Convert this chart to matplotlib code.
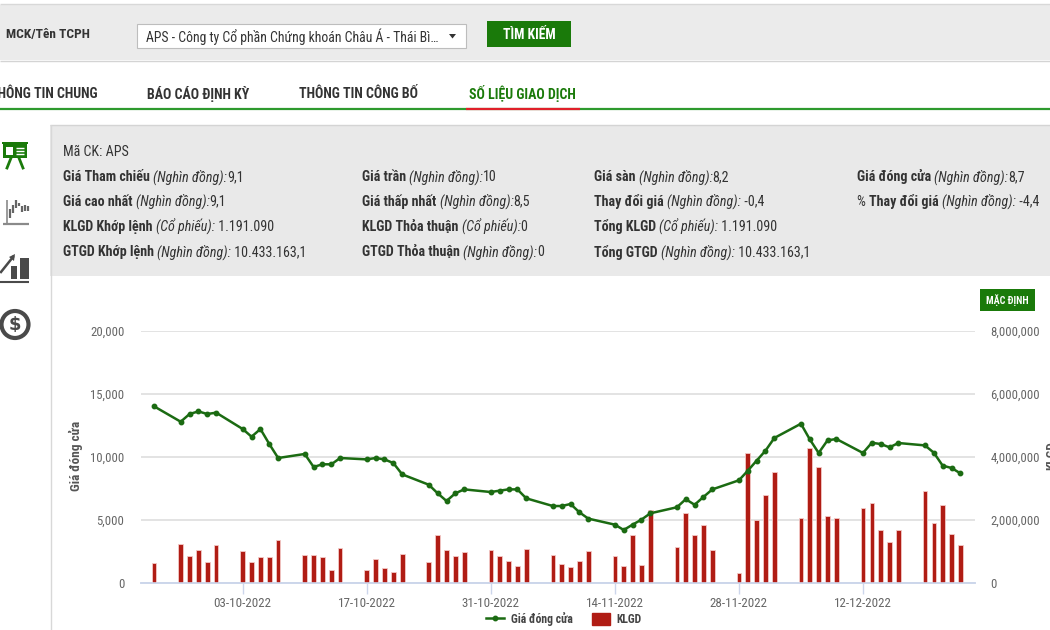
import matplotlib
matplotlib.use('Agg')
import matplotlib.pyplot as plt
import matplotlib.dates as mdates
import pandas as pd
from matplotlib.patches import Circle, Polygon, Rectangle
from matplotlib.ticker import FuncFormatter

plt.rcParams['font.family'] = ['Roboto Condensed', 'Noto Sans', 'DejaVu Sans']

# Trading days, 23-09-2022 to 23-12-2022
trade_dates = pd.bdate_range('2022-09-23', '2022-12-23')

close_price = [
    14020, 12800, 13410, 13620, 13410, 13520,
    12220, 11610, 12220, 11030, 9920,
    10240, 9210, 9420, 9420, 9920,
    9810, 9920, 9810, 9520, 8620,
    7800, 7120, 6510, 7120, 7430,
    7220, 7330, 7430, 7430, 6720,
    6110, 6110, 6270, 5610, 5110,
    4630, 4210, 4630, 5030, 5530,
    6010, 6650, 6210, 6830, 7430,
    8150, 8910, 9710, 10500, 11510,
    12640, 11400, 10320, 11320, 11430,
    10320, 11130, 11030, 10770, 11110,
    10920, 10340, 9310, 9130, 8700,
]

volume = [
    624000, 1250000, 868000, 1040000, 656000, 1217000,
    1005000, 656000, 836000, 836000, 1355000,
    900000, 900000, 836000, 402000, 1110000,
    402000, 762000, 487000, 349000, 931000,
    665000, 1513000, 1058000, 857000, 995000,
    1058000, 857000, 709000, 540000, 1090000,
    889000, 614000, 508000, 709000, 1026000,
    857000, 540000, 1513000, 571000, 2317000,
    1132000, 2225000, 1508000, 1841000, 1048000,
    317000, 4116000, 1989000, 2783000, 3524000,
    2053000, 4275000, 3693000, 2127000, 2053000,
    2370000, 2540000, 1672000, 1291000, 1672000,
    2931000, 1915000, 2476000, 1566000, 1191090,
]

price_ticks = [0, 5000, 10000, 15000, 20000]
volume_ticks = [0, 2000000, 4000000, 6000000, 8000000]
date_ticks = ['2022-10-03', '2022-10-17', '2022-10-31', '2022-11-14', '2022-11-28', '2022-12-12']

nav_items = ['BÁO CÁO ĐỊNH KỲ', 'THÔNG TIN CÔNG BỐ', 'SỐ LIỆU GIAO DỊCH']

info_rows = [
    [[('Giá Tham chiếu ', 'b'), ('(Nghìn đồng):', 'i'), ('9,1', 'n')],
     [('Giá trần ', 'b'), ('(Nghìn đồng):', 'i'), ('10', 'n')],
     [('Giá sàn ', 'b'), ('(Nghìn đồng):', 'i'), ('8,2', 'n')],
     [('Giá đóng cửa ', 'b'), ('(Nghìn đồng):', 'i'), ('8,7', 'n')]],
    [[('Giá cao nhất ', 'b'), ('(Nghìn đồng):', 'i'), ('9,1', 'n')],
     [('Giá thấp nhất ', 'b'), ('(Nghìn đồng):', 'i'), ('8,5', 'n')],
     [('Thay đổi giá ', 'b'), ('(Nghìn đồng):', 'i'), (' -0,4', 'n')],
     [('% ', 'n'), ('Thay đổi giá ', 'b'), ('(Nghìn đồng):', 'i'), (' -4,4', 'n')]],
    [[('KLGD Khớp lệnh ', 'b'), ('(Cổ phiếu):', 'i'), (' 1.191.090', 'n')],
     [('KLGD Thỏa thuận ', 'b'), ('(Cổ phiếu):', 'i'), ('0', 'n')],
     [('Tổng KLGD ', 'b'), ('(Cổ phiếu):', 'i'), (' 1.191.090', 'n')]],
    [[('GTGD Khớp lệnh ', 'b'), ('(Nghìn đồng):', 'i'), (' 10.433.163,1', 'n')],
     [('GTGD Thỏa thuận ', 'b'), ('(Nghìn đồng):', 'i'), ('0', 'n')],
     [('Tổng GTGD ', 'b'), ('(Nghìn đồng):', 'i'), (' 10.433.163,1', 'n')]],
]

GREEN = '#1a7a0a'
LINE_GREEN = '#1b6b12'
BAR_RED = '#b01c14'
PANEL = '#e9e9e9'
DARK = '#333333'
ICON = '#4a4a4a'

W, H = 1050, 630
fig = plt.figure(figsize=(W / 100, H / 100), dpi=100, facecolor='white')

# page furniture is laid out in pixels, y going down
page = fig.add_axes([0, 0, 1, 1])
page.set_xlim(0, W)
page.set_ylim(H, 0)
page.axis('off')


def box(x0, y0, x1, y1, color, edge='none', lw=0, z=1):
    page.add_patch(Rectangle((x0, y0), x1 - x0, y1 - y0, facecolor=color,
                             edgecolor=edge, linewidth=lw, zorder=z))


def rule(x0, y0, x1, y1, color, lw=1.0):
    page.plot([x0, x1], [y0, y1], color=color, linewidth=lw, solid_capstyle='butt', zorder=2)


def run_text(x, y, parts, size=10.1):
    """Write bold/italic/normal pieces one after the other on a line"""
    renderer = fig.canvas.get_renderer()
    for text, style in parts:
        t = page.text(x, y, text.replace(' ', '\u00a0'), fontsize=size, color=DARK, va='center', zorder=3,
                      fontweight='bold' if style == 'b' else 'normal',
                      fontstyle='italic' if style == 'i' else 'normal')
        x = page.transData.inverted().transform(t.get_window_extent(renderer).get_points())[1][0]


# search bar
rule(0, 4, W, 4, '#d8d8d8', 1.0)
box(0, 5, W, 60, '#ebebeb')
rule(0, 60.5, W, 60.5, '#d4d4d4', 1.0)
page.text(6, 34.5, 'MCK/Tên TCPH', fontsize=9.6, color=DARK, fontweight='bold', va='center', zorder=3)
box(137, 23.5, 465.5, 48, 'white', '#bdbdbd', 0.8, 2)
page.text(146, 36.5, 'APS - Công ty Cổ phần Chứng khoán Châu Á - Thái Bì…', fontsize=9.9,
          color=DARK, va='center', zorder=3)
page.add_patch(Polygon([(449, 34), (456, 34), (452.5, 38.5)], facecolor='#333333', zorder=3))
box(487, 21, 571, 47, GREEN)
page.text(529, 35, 'TÌM KIẾM', fontsize=9.8, color='white', fontweight='bold', ha='center', va='center', zorder=3)

# tab strip, first tab runs off the left edge
page.text(97, 93.5, 'THÔNG TIN CHUNG', fontsize=10, color=DARK, fontweight='bold', ha='right', va='center', zorder=3)
for label, x, col in zip(nav_items, [147, 299, 469], [DARK, DARK, GREEN]):
    page.text(x, 93.5, label, fontsize=10, color=col, fontweight='bold', va='center', zorder=3)
rule(0, 108.5, W, 108.5, '#2e9a2e', 1.6)
rule(466, 108.5, 580, 108.5, '#e0202a', 1.6)

# info panel
box(50, 125, W, 276, PANEL)
rule(50, 125, W, 125, '#d4d4d4', 1.0)
rule(50.5, 125, 50.5, H, '#d8d8d8', 1.0)
run_text(63, 151.5, [('Mã CK: APS', 'n')])
for row, y in zip(info_rows, [177, 201.5, 227, 252]):
    for parts, x in zip(row, [63, 362, 594, 857]):
        run_text(x, y, parts)

box(980, 289, 1035, 311, GREEN)
page.text(1007.5, 300.5, 'MẶC ĐỊNH', fontsize=7.2, color='white', fontweight='bold', ha='center', va='center', zorder=3)

# side menu icons: presentation board
box(2, 141.5, 28, 144, GREEN)
box(3, 144, 27, 158, GREEN)
box(6, 147, 13, 155, 'white', z=2)
for y in [148, 151, 154]:
    rule(16, y, 24, y, 'white', 1.0)
page.plot([11, 7], [158, 168], color=GREEN, linewidth=2, zorder=2)
page.plot([19, 23], [158, 168], color=GREEN, linewidth=2, zorder=2)
# candlesticks
rule(3, 224, 29, 224, '#8a8a8a', 1.6)
rule(7, 200, 7, 224, '#8a8a8a', 1.2)
for x, y0, y1 in [(10, 209, 218), (13, 205, 213), (16, 200, 208), (19, 203, 206),
                  (22, 206, 212), (25, 205, 211), (28, 206, 211)]:
    rule(x, y0, x, y1, '#666666', 1.6)
# rising bars
box(10.5, 266, 17, 279, ICON)
box(20, 258, 28.5, 279, ICON)
rule(0, 282, 28.5, 282, ICON, 1.5)
page.plot([1, 13], [272, 257], color=ICON, linewidth=1.8, zorder=2)
page.add_patch(Polygon([(15, 254), (14, 261), (9, 257)], facecolor=ICON, zorder=3))
# dollar coin
page.add_patch(Circle((15, 324.5), 13.5, facecolor='white', edgecolor=ICON, linewidth=3, zorder=2))
page.text(15, 325, '$', fontsize=13, color=ICON, fontweight='bold', ha='center', va='center',
          family='DejaVu Sans', zorder=3)

# chart, volume bars sit under the price line
ax_vol = fig.add_axes([141 / W, 1 - 583 / H, (975 - 141) / W, 252 / H])
ax_price = ax_vol.twinx()
ax_vol.patch.set_visible(False)
ax_price.patch.set_visible(False)

bars = ax_vol.bar(trade_dates, volume, width=0.52, color=BAR_RED, edgecolor='#f3c9c6', linewidth=0.6, zorder=3)
price_line, = ax_price.plot(trade_dates, close_price, color=LINE_GREEN, linewidth=1.8,
                            marker='o', markersize=3.2, zorder=4)

ax_vol.set_ylim(0, 8000000)
ax_price.set_ylim(0, 20000)
ax_vol.set_xlim(mdates.date2num(pd.Timestamp('2022-09-21 12:30')), mdates.date2num(pd.Timestamp('2022-12-24 15:30')))

ax_vol.set_yticks(volume_ticks)
ax_price.set_yticks(price_ticks)
ax_vol.set_xticks(pd.to_datetime(date_ticks))
ax_vol.xaxis.set_major_formatter(mdates.DateFormatter('%d-%m-%Y'))
ax_vol.yaxis.set_major_formatter(FuncFormatter(lambda v, _: f'{v:,.0f}'))
ax_price.yaxis.set_major_formatter(FuncFormatter(lambda v, _: f'{v:,.0f}'))

ax_vol.yaxis.tick_right()
ax_price.yaxis.tick_left()
ax_vol.grid(axis='y', color='#e3e3e3', linewidth=1.4, zorder=0)
ax_vol.set_axisbelow(True)
ax_vol.tick_params(axis='x', length=8, width=1, color='#ccd6eb', labelcolor='#666666', labelsize=9.4, pad=2)
ax_vol.tick_params(axis='y', length=0, labelcolor='#666666', labelsize=9.2, pad=11)
ax_price.tick_params(axis='y', length=0, labelcolor='#666666', labelsize=9.2, pad=12)

for ax in (ax_vol, ax_price):
    for side in ('top', 'left', 'right'):
        ax.spines[side].set_visible(False)
    ax.spines['bottom'].set_color('#ccd6eb')
    ax.spines['bottom'].set_linewidth(1.2)

page.text(76, 456, 'Giá đóng cửa', fontsize=9.5, color='#555555', fontweight='bold',
          rotation=90, ha='center', va='center', zorder=3)
page.text(1052, 456, 'KLGD', fontsize=9.5, color='#555555', fontweight='bold',
          rotation=90, ha='center', va='center', zorder=3)

fig.legend(handles=[price_line, Rectangle((0, 0), 1, 1, color=BAR_RED)],
           labels=['Giá đóng cửa', 'KLGD'], ncol=2, frameon=False, loc='center',
           bbox_to_anchor=(564 / W, 1 - 619 / H), handlelength=1.5, handleheight=1.2,
           columnspacing=1.6, handletextpad=0.6,
           prop={'size': 8.5, 'weight': 'bold'}, labelcolor='#444444')

fig.savefig('out.png', dpi=100)
